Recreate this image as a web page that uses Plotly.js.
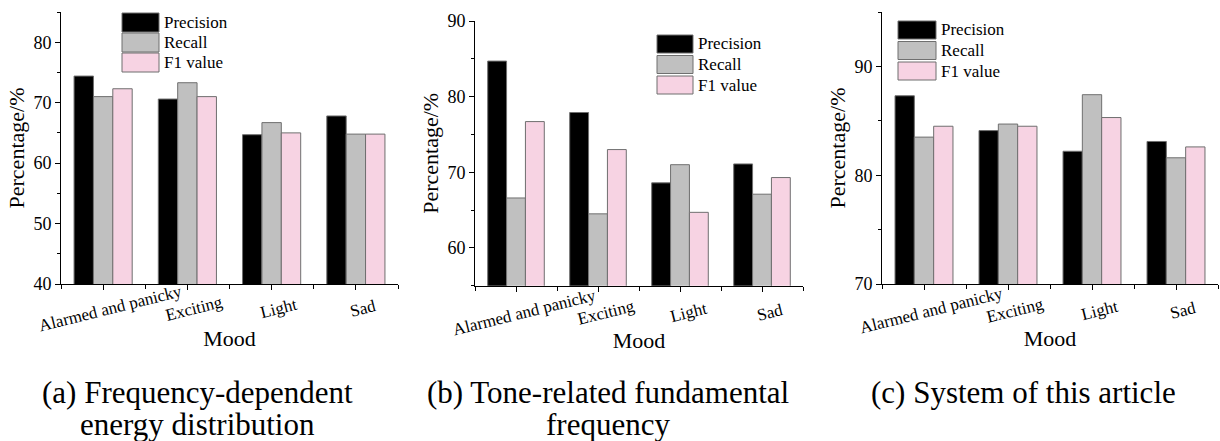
<!DOCTYPE html>
<html>
<head>
<meta charset="utf-8">
<script src="https://cdn.plot.ly/plotly-3.0.1.min.js"></script>
<style>
  html, body { margin: 0; padding: 0; background: #ffffff; }
  #chart { width: 1220px; height: 441px; }
</style>
</head>
<body>
<div id="chart"></div>
<script>
// Mood categories and metric names
const moods = ['Alarmed and panicky', 'Exciting', 'Light', 'Sad'];
const seriesNames = ['Precision', 'Recall', 'F1 value'];

// (a) Frequency-dependent energy distribution
const precisionA = [74.4, 70.6, 64.7, 67.8];
const recallA    = [71.0, 73.3, 66.7, 64.8];
const f1A        = [72.3, 71.0, 65.0, 64.8];

// (b) Tone-related fundamental frequency
const precisionB = [84.7, 77.9, 68.6, 71.1];
const recallB    = [66.6, 64.5, 71.0, 67.1];
const f1B        = [76.7, 73.0, 64.7, 69.3];

// (c) System of this article
const precisionC = [87.3, 84.1, 82.2, 83.1];
const recallC    = [83.5, 84.7, 87.4, 81.6];
const f1C        = [84.5, 84.5, 85.3, 82.6];

const yRanges = [[40, 85], [55, 90], [70, 95]];
const captionLines = [
  ['(a) Frequency-dependent', 'energy distribution'],
  ['(b) Tone-related fundamental', 'frequency'],
  ['(c) System of this article']
];
const axisTitleX = 'Mood';
const axisTitleY = 'Percentage/%';

// ---- styling ----
const W = 1220, H = 441;
const px = x => x / W;
const py = y => 1 - y / H;
const SERIF = 'Liberation Serif, serif';
const fills = ['#000000', '#c0c0c0', '#f7d3e3'];
const edge = '#6f6f6f';

// pixel frames of the three panels: [left, right], [bottom, top]
const frames = [
  { x: [61, 398],  y: [284, 12] },
  { x: [475, 803], y: [285.7, 21] },
  { x: [882, 1218], y: [284, 12] }
];
// legend blocks: swatch left/right, first row top, row pitch, swatch height
const legendBoxes = [
  { x0: 122, x1: 159, top: 13, pitch: 20, h: 19 },
  { x0: 657, x1: 693, top: 35, pitch: 20.5, h: 18 },
  { x0: 898, x1: 936, top: 21, pitch: 20.5, h: 18 }
];
const tickLabelShift = [7, 8, 7];
const tickLabelY = [308, 312, 310];
const captionX = [197, 608, 1023];

const panelData = [
  [precisionA, recallA, f1A],
  [precisionB, recallB, f1B],
  [precisionC, recallC, f1C]
];

const idx = moods.map((m, i) => i);
const traces = [];
const layout = {
  width: W, height: H,
  margin: { l: 0, r: 0, t: 0, b: 0 },
  paper_bgcolor: '#ffffff',
  plot_bgcolor: 'rgba(0,0,0,0)',
  showlegend: false,
  barmode: 'group',
  bargap: 0.31,
  bargroupgap: 0,
  font: { family: SERIF, color: '#000000' },
  shapes: [],
  annotations: []
};

panelData.forEach((series, p) => {
  const xa = p === 0 ? 'x' : 'x' + (p + 1);
  const ya = p === 0 ? 'y' : 'y' + (p + 1);
  const xKey = p === 0 ? 'xaxis' : 'xaxis' + (p + 1);
  const yKey = p === 0 ? 'yaxis' : 'yaxis' + (p + 1);
  const f = frames[p];

  series.forEach((vals, s) => {
    traces.push({
      type: 'bar',
      name: seriesNames[s],
      x: idx,
      y: vals,
      xaxis: xa, yaxis: ya,
      offsetgroup: String(s),
      marker: { color: fills[s], line: { color: edge, width: 1 } },
      hoverinfo: 'skip'
    });
  });

  layout[xKey] = {
    domain: [px(f.x[0]), px(f.x[1])],
    anchor: ya,
    range: [-0.5, moods.length - 0.5],
    tickvals: idx,
    showticklabels: false,
    ticks: 'outside', ticklen: 5, tickwidth: 1, tickcolor: '#000',
    minor: { tick0: 0.5, dtick: 1, ticks: 'outside', ticklen: 4, tickcolor: '#000' },
    showline: true, linecolor: '#000', linewidth: 1,
    showgrid: false, zeroline: false, fixedrange: true,
    title: { text: axisTitleX, font: { family: SERIF, size: 22, color: '#000' }, standoff: 41 }
  };
  layout[yKey] = {
    domain: [py(f.y[0]), py(f.y[1])],
    anchor: xa,
    range: yRanges[p],
    dtick: 10,
    ticks: 'outside', ticklen: 5, tickwidth: 1, tickcolor: '#000',
    minor: { dtick: 5, ticks: 'outside', ticklen: 3, tickcolor: '#000' },
    tickfont: { family: SERIF, size: 18, color: '#000' },
    showline: true, linecolor: '#000', linewidth: 1,
    showgrid: false, zeroline: false, fixedrange: true,
    title: { text: axisTitleY, font: { family: SERIF, size: 22, color: '#000' }, standoff: 2 }
  };

  // slanted category labels centred under each group
  moods.forEach((m, i) => {
    layout.annotations.push({
      text: m, xref: xa, yref: 'paper',
      x: i, y: py(tickLabelY[p]), xshift: tickLabelShift[p],
      xanchor: 'center', yanchor: 'middle',
      textangle: -14, showarrow: false,
      font: { family: SERIF, size: 17, color: '#000' }
    });
  });

  // legend block
  const lb = legendBoxes[p];
  seriesNames.forEach((name, s) => {
    const top = lb.top + s * lb.pitch;
    layout.shapes.push({
      type: 'rect', xref: 'paper', yref: 'paper',
      x0: px(lb.x0), x1: px(lb.x1), y0: py(top + lb.h), y1: py(top),
      fillcolor: fills[s], line: { color: edge, width: 1 }
    });
    layout.annotations.push({
      text: name, xref: 'paper', yref: 'paper',
      x: px(lb.x1 + 3), y: py(top + lb.h / 2),
      xanchor: 'left', yanchor: 'middle', showarrow: false,
      font: { family: SERIF, size: 17, color: '#000' }
    });
  });

  // caption under the panel
  captionLines[p].forEach((line, k) => {
    layout.annotations.push({
      text: line, xref: 'paper', yref: 'paper',
      x: px(captionX[p]), y: py(392 + k * 32),
      xanchor: 'center', yanchor: 'middle', showarrow: false,
      font: { family: SERIF, size: 31, color: '#000' }
    });
  });
});

Plotly.newPlot('chart', traces, layout, { displayModeBar: false, staticPlot: true });
</script>
</body>
</html>
